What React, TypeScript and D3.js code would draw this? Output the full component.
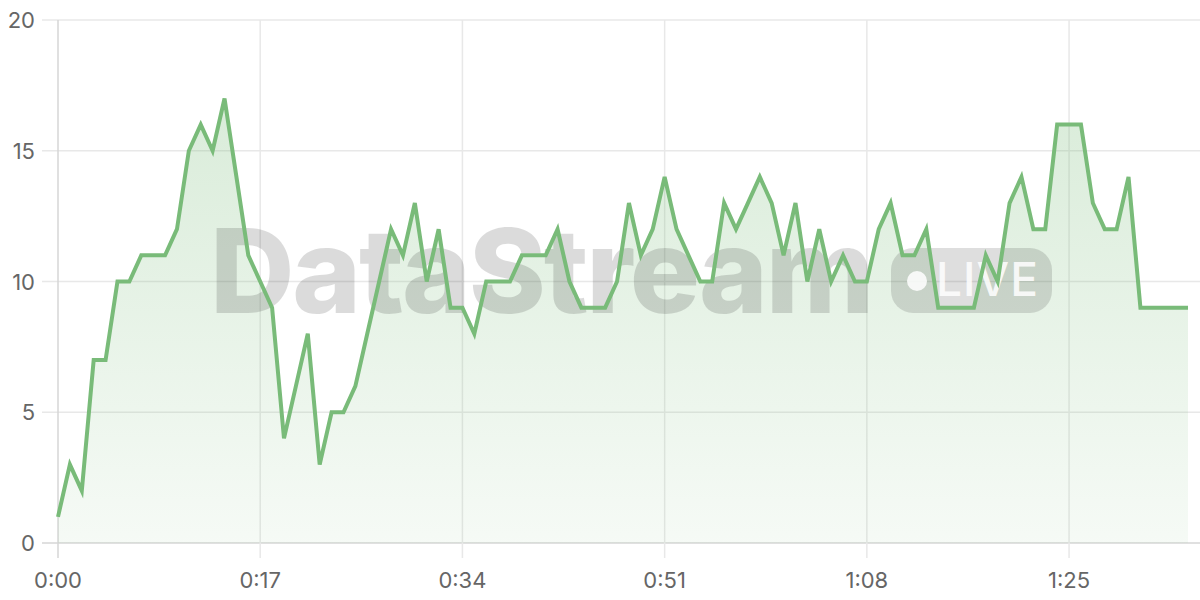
import React from "react";
import * as d3 from "d3";

const seconds: number[] = d3.range(0, 96);
const values: number[] = [
  1, 3, 2, 7, 7, 10, 10, 11, 11, 11, 12, 15, 16, 15, 17, 14, 11, 10, 9, 4,
  6, 8, 3, 5, 5, 6, 8, 10, 12, 11, 13, 10, 12, 9, 9, 8, 10, 10, 10, 11,
  11, 11, 12, 10, 9, 9, 9, 10, 13, 11, 12, 14, 12, 11, 10, 10, 13, 12, 13, 14,
  13, 11, 13, 10, 12, 10, 11, 10, 10, 12, 13, 11, 11, 12, 9, 9, 9, 9, 11, 10,
  13, 14, 12, 12, 16, 16, 16, 13, 12, 12, 14, 9, 9, 9, 9, 9,
];
const xTicks: number[] = [0, 17, 34, 51, 68, 85];
const yTicks: number[] = [0, 5, 10, 15, 20];
const watermark = "DataStream";
const badgeText = "LIVE";

const W = 1200;
const H = 600;
const M = { left: 58, right: 12, top: 20, bottom: 57 };

function fmt(s: number): string {
  const m = Math.floor(s / 60);
  const r = s % 60;
  return `${m}:${String(r).padStart(2, "0")}`;
}

export default function App() {
  const x = d3.scaleLinear().domain([0, 95]).range([M.left, W - M.right]);
  const y = d3.scaleLinear().domain([0, 20]).range([H - M.bottom, M.top]);
  const pts = seconds.map((s, i) => [s, values[i]] as [number, number]);
  const line = d3
    .line<[number, number]>()
    .x((d) => x(d[0]))
    .y((d) => y(d[1]));
  const area = d3
    .area<[number, number]>()
    .x((d) => x(d[0]))
    .y0(y(0))
    .y1((d) => y(d[1]));
  const font = "Inter, 'Noto Sans', sans-serif";
  const labelColor = "#666";
  const gridColor = "#e8e8e8";
  const green = "#79bb79";

  return (
    <svg
      width={W}
      height={H}
      style={{ position: "fixed", left: 0, top: 0, background: "#fff" }}
      fontFamily={font}
    >
      <defs>
        <linearGradient id="fillGrad" gradientUnits="userSpaceOnUse" x1={0} x2={0} y1={y(17)} y2={y(0)}>
          <stop offset="0%" stopColor={green} stopOpacity={0.28} />
          <stop offset="100%" stopColor={green} stopOpacity={0.07} />
        </linearGradient>
      </defs>
      {yTicks.map((t) => (
        <line
          key={"h" + t}
          x1={M.left - 16}
          x2={W}
          y1={y(t)}
          y2={y(t)}
          stroke={t === 0 ? "#d6d6d6" : gridColor}
          strokeWidth={1.5}
        />
      ))}
      {xTicks.map((t) => (
        <line
          key={"v" + t}
          x1={x(t)}
          x2={x(t)}
          y1={M.top}
          y2={H - M.bottom + 15}
          stroke={t === 0 ? "#d6d6d6" : gridColor}
          strokeWidth={1.5}
        />
      ))}
      <path d={area(pts) || ""} fill="url(#fillGrad)" />
      <g>
        <text
          x={210}
          y={313}
          fontSize={117}
          fontWeight={800}
          fill="#000"
          fillOpacity={0.14}
          letterSpacing={-2.2}
        >
          {watermark}
        </text>
        <rect x={891} y={248} width={161} height={65} rx={22} fill="#000" fillOpacity={0.13} />
        <circle cx={917} cy={281} r={10} fill="#fff" fillOpacity={0.85} />
        <text x={936} y={296} fontSize={46} fontWeight={500} fill="#fff" fillOpacity={0.85} letterSpacing={1}>
          {badgeText}
        </text>
      </g>
      <path
        d={line(pts) || ""}
        fill="none"
        stroke={green}
        strokeWidth={4}
        strokeLinejoin="miter"
        strokeMiterlimit={4}
      />
      {yTicks.map((t) => (
        <text
          key={"yl" + t}
          x={35}
          y={y(t)}
          textAnchor="end"
          dominantBaseline="central"
          fontSize={22}
          fill={labelColor}
        >
          {t}
        </text>
      ))}
      {xTicks.map((t) => (
        <text
          key={"xl" + t}
          x={x(t)}
          y={580}
          textAnchor="middle"
          dominantBaseline="central"
          fontSize={22}
          fill={labelColor}
        >
          {fmt(t)}
        </text>
      ))}
    </svg>
  );
}
